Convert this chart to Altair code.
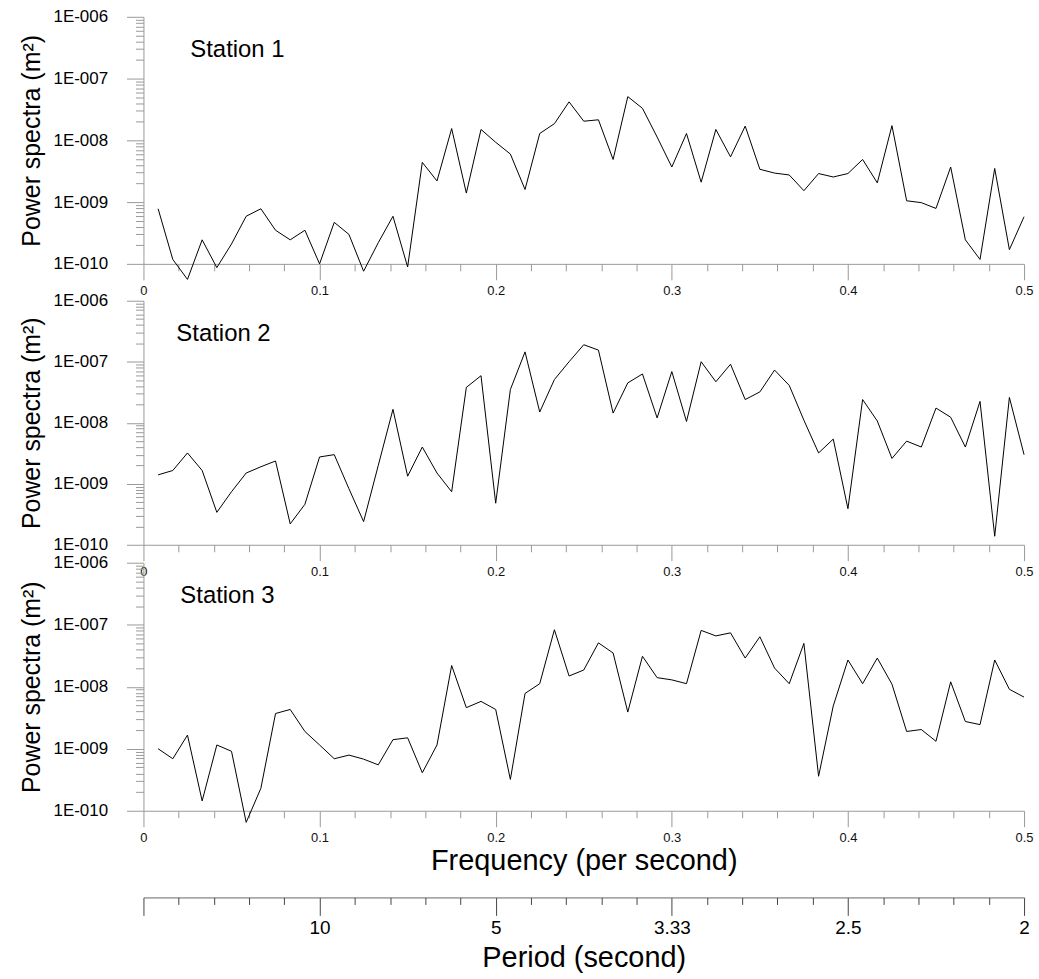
import altair as alt
import pandas as pd

# frequency grid of the spectra (60 bins up to Nyquist 0.5 Hz)
freq = [round(k / 120, 6) for k in range(1, 61)]

station1 = [7.8e-10, 1.18e-10, 5.6e-11, 2.45e-10, 8.7e-11, 2.1e-10, 5.9e-10, 7.8e-10, 3.5e-10, 2.45e-10,
            3.5e-10, 1.0e-10, 4.7e-10, 3.0e-10, 7.6e-11, 2.2e-10, 5.9e-10, 8.9e-11, 4.4e-9, 2.2e-9,
            1.55e-8, 1.4e-9, 1.5e-8, 9.3e-9, 6.0e-9, 1.6e-9, 1.29e-8, 1.86e-8, 4.2e-8, 2.04e-8,
            2.15e-8, 4.9e-9, 5.1e-8, 3.3e-8, 1.13e-8, 3.7e-9, 1.29e-8, 2.1e-9, 1.5e-8, 5.4e-9,
            1.7e-8, 3.4e-9, 2.95e-9, 2.75e-9, 1.53e-9, 2.9e-9, 2.55e-9, 2.9e-9, 4.9e-9, 2.05e-9,
            1.73e-8, 1.05e-9, 9.8e-10, 7.9e-10, 3.7e-9, 2.45e-10, 1.18e-10, 3.5e-9, 1.7e-10, 5.8e-10]

station2 = [1.4e-9, 1.65e-9, 3.2e-9, 1.65e-9, 3.4e-10, 7.4e-10, 1.5e-9, 1.9e-9, 2.36e-9, 2.2e-10,
            4.6e-10, 2.75e-9, 3.0e-9, 8.3e-10, 2.4e-10, 2.0e-9, 1.66e-8, 1.33e-9, 4.0e-9, 1.5e-9,
            7.4e-10, 3.8e-8, 5.9e-8, 4.8e-10, 3.5e-8, 1.45e-7, 1.5e-8, 5.1e-8, 1.0e-7, 1.9e-7,
            1.55e-7, 1.44e-8, 4.5e-8, 6.3e-8, 1.2e-8, 6.9e-8, 1.05e-8, 1.0e-7, 4.7e-8, 9.1e-8,
            2.4e-8, 3.2e-8, 7.3e-8, 4.1e-8, 1.1e-8, 3.2e-9, 5.4e-9, 3.9e-10, 2.4e-8, 1.07e-8,
            2.6e-9, 5.0e-9, 4.0e-9, 1.74e-8, 1.23e-8, 4.0e-9, 2.24e-8, 1.38e-10, 2.6e-8, 3.0e-9]

station3 = [1.0e-9, 6.9e-10, 1.66e-9, 1.44e-10, 1.15e-9, 9.1e-10, 6.5e-11, 2.3e-10, 3.7e-9, 4.3e-9,
            1.9e-9, 1.15e-9, 6.9e-10, 7.9e-10, 6.8e-10, 5.5e-10, 1.4e-9, 1.5e-9, 4.1e-10, 1.15e-9,
            2.2e-8, 4.6e-9, 5.8e-9, 4.3e-9, 3.2e-10, 7.8e-9, 1.12e-8, 8.3e-8, 1.49e-8, 1.86e-8,
            5.1e-8, 3.5e-8, 3.9e-9, 3.1e-8, 1.4e-8, 1.29e-8, 1.12e-8, 8.1e-8, 6.6e-8, 7.4e-8,
            2.9e-8, 6.4e-8, 2.0e-8, 1.12e-8, 5.0e-8, 3.6e-10, 4.9e-9, 2.7e-8, 1.12e-8, 2.9e-8,
            1.1e-8, 1.9e-9, 2.04e-9, 1.32e-9, 1.2e-8, 2.75e-9, 2.45e-9, 2.7e-8, 9.1e-9, 6.8e-9]

station_names = ["Station 1", "Station 2", "Station 3"]
x_major = [0, 0.1, 0.2, 0.3, 0.4, 0.5]
x_minor = [0.02, 0.04, 0.06, 0.08, 0.12, 0.14, 0.16, 0.18, 0.22, 0.24, 0.26, 0.28,
           0.32, 0.34, 0.36, 0.38, 0.42, 0.44, 0.46, 0.48]
y_major = [1e-10, 1e-9, 1e-8, 1e-7, 1e-6]
y_minor = [m * 10.0 ** e for e in range(-10, -6) for m in range(2, 10)]

FONT = "Liberation Sans"
AX = "#9a9a9a"
W = 884

y_label_expr = ("'1E-' + (round(-log(datum.value)/LN10) >= 10 ? '0' : '00') + "
                "round(-log(datum.value)/LN10)")


def panel(values, name, height, dx, last=False):
    df = pd.DataFrame({"f": freq, "p": values})
    xs = alt.Scale(domain=[0, 0.5], nice=False, zero=False)
    ys = alt.Scale(type="log", domain=[1e-10, 1e-6], nice=False)
    base = alt.Chart(df)
    line = base.mark_line(color="black", strokeWidth=1).encode(
        x=alt.X("f:Q", scale=xs, axis=alt.Axis(
            values=x_major, orient="bottom", tickSize=16, tickColor=AX, domainColor=AX,
            labelPadding=5, labelFontSize=13, labelFont=FONT, labelColor="#111",
            labelFlush=False, labelOverlap=False, grid=False,
            labelExpr="datum.value == 0 ? '0' : format(datum.value, '.1f')",
            title="Frequency (per second)" if last else None,
            titleFontSize=29, titleFont=FONT, titleFontWeight="normal", titleColor="black",
            titlePadding=2)),
        y=alt.Y("p:Q", scale=ys, axis=alt.Axis(
            values=y_major, orient="left", tickSize=17, tickColor=AX, domainColor=AX,
            labelPadding=19, labelFontSize=17, labelFont=FONT, labelColor="black",
            labelFlush=False, labelOverlap=False, grid=False, labelExpr=y_label_expr,
            title="Power spectra (m²)", titleFontSize=25, titleFont=FONT,
            titleFontWeight="normal", titleColor="black", titlePadding=9)),
    )
    minor = base.mark_point(opacity=0).encode(
        x=alt.X("f:Q", scale=xs, axis=alt.Axis(
            values=x_minor, orient="bottom", tickSize=7, tickColor=AX, domain=False,
            labels=False, grid=False, title=None)),
        y=alt.Y("p:Q", scale=ys, axis=alt.Axis(
            values=y_minor, orient="left", tickSize=8, tickColor=AX, domain=False,
            labels=False, grid=False, title=None)),
    )
    layers = [line, minor]
    if last:
        per_major = base.mark_point(opacity=0).encode(
            x=alt.X("f:Q", scale=xs, axis=alt.Axis(
                values=x_major, orient="bottom", offset=87, tickSize=18, tickColor="#444",
                domainColor="#666", labelPadding=3, labelFontSize=19, labelFont=FONT,
                labelColor="black", labelFlush=False, labelOverlap=False, grid=False,
                labelExpr="datum.value == 0 ? '' : format(1 / datum.value, '.3~g')",
                title="Period (second)", titleFontSize=29, titleFont=FONT,
                titleFontWeight="normal", titleColor="black", titlePadding=6)),
            y=alt.Y("p:Q", scale=ys, axis=None),
        )
        per_minor = base.mark_point(opacity=0).encode(
            x=alt.X("f:Q", scale=xs, axis=alt.Axis(
                values=x_minor, orient="bottom", offset=87, tickSize=7, tickColor="#444",
                domain=False, labels=False, grid=False, title=None)),
            y=alt.Y("p:Q", scale=ys, axis=None),
        )
        layers += [per_major, per_minor]
    return alt.layer(*layers).properties(
        width=W, height=height,
        title=alt.TitleParams(name, anchor="start", frame="group", dx=dx, dy=66, offset=0,
                              baseline="middle", fontSize=24, font=FONT,
                              fontWeight="normal", color="black"),
    ).resolve_axis(x="independent", y="independent")


p1 = panel(station1, station_names[0], 248, 47)
p2 = panel(station2, station_names[1], 245, 33)
p3 = panel(station3, station_names[2], 249, 37, last=True)

spacer = alt.Chart(pd.DataFrame({"f": [0.0]})).mark_point(opacity=0).encode(
    x=alt.X("f:Q", axis=None), y=alt.value(0)
).properties(width=W, height=0.01)

chart = alt.vconcat(p1, spacer, p2, p3, spacing=18, bounds="flush").properties(
    padding={"left": 19, "top": 6, "right": 5, "bottom": 2}
).configure_view(stroke=None)

chart.save("out.html", embed_options={"renderer": "svg", "actions": False})
